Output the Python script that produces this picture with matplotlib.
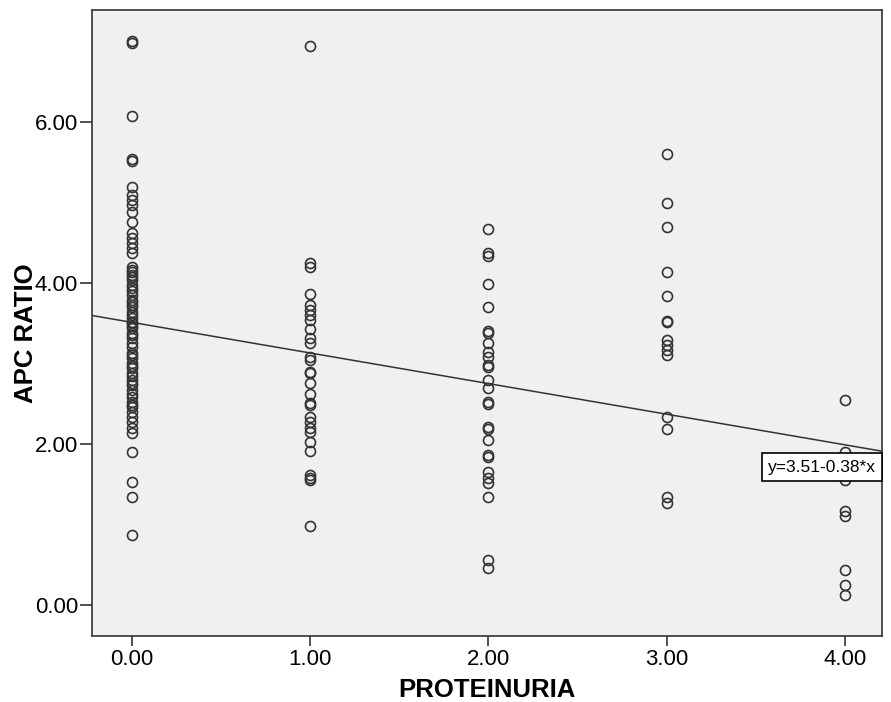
import matplotlib
matplotlib.use("Agg")
import matplotlib.pyplot as plt
import numpy as np

plt.rcParams['font.family'] = ['Liberation Sans', 'DejaVu Sans']

# APC ratio values per proteinuria level
apc_p0 = [7.00, 6.98, 6.07, 5.54, 5.52, 5.19, 5.09, 5.03, 4.97, 4.88, 4.76, 4.62,
          4.56, 4.50, 4.43, 4.37, 4.20, 4.16, 4.13, 4.10, 4.07, 4.04, 3.98, 3.94,
          3.90, 3.85, 3.79, 3.76, 3.73, 3.70, 3.64, 3.60, 3.57, 3.52, 3.50, 3.47,
          3.44, 3.38, 3.35, 3.32, 3.25, 3.20, 3.13, 3.10, 3.07, 3.01, 2.97, 2.94,
          2.88, 2.84, 2.80, 2.76, 2.73, 2.67, 2.62, 2.58, 2.52, 2.49, 2.46, 2.40,
          2.34, 2.27, 2.20, 2.14, 1.90, 1.53, 1.34, 0.87]
apc_p1 = [6.94, 4.25, 4.20, 3.86, 3.73, 3.66, 3.60, 3.54, 3.43, 3.32, 3.25, 3.08,
          3.04, 2.89, 2.88, 2.76, 2.62, 2.51, 2.48, 2.34, 2.27, 2.20, 2.15, 2.02,
          1.91, 1.61, 1.58, 1.55, 0.98]
apc_p2 = [4.67, 4.37, 4.34, 3.99, 3.70, 3.40, 3.38, 3.25, 3.14, 3.08, 2.98, 2.95,
          2.80, 2.70, 2.52, 2.50, 2.21, 2.19, 2.05, 1.86, 1.84, 1.65, 1.58, 1.52,
          1.34, 0.56, 0.46]
apc_p3 = [5.60, 4.99, 4.70, 4.14, 3.84, 3.53, 3.51, 3.29, 3.23, 3.17, 3.11, 2.34,
          2.19, 1.34, 1.27]
apc_p4 = [2.55, 1.90, 1.55, 1.17, 1.10, 0.43, 0.25, 0.13]

groups = [0, 1, 2, 3, 4]
series = [apc_p0, apc_p1, apc_p2, apc_p3, apc_p4]

intercept = 3.51
slope = -0.38

xticks = [0, 1, 2, 3, 4]
yticks = [0, 2, 4, 6]

fig = plt.figure(figsize=(8.91, 7.02), dpi=100)
ax = fig.add_axes([0.1033, 0.094, 0.8867, 0.8918])
ax.set_facecolor('#f0f0f0')

for g, vals in zip(groups, series):
    ax.plot([g] * len(vals), vals, linestyle='none', marker='o', markersize=7.2,
            markerfacecolor='none', markeredgecolor='#333333', markeredgewidth=1.2)

xlim = (-0.225, 4.21)
ax.set_xlim(*xlim)
ax.set_ylim(-0.385, 7.39)
xs = np.array(xlim)
ax.plot(xs, intercept + slope * xs, color='#333333', linewidth=1.1)

ax.text(4.175, 1.714, 'y=3.51-0.38*x', ha='right', va='center', fontsize=12.5,
        bbox=dict(boxstyle='square,pad=0.36', facecolor='white', edgecolor='black', linewidth=1.2))

ax.set_xticks(xticks)
ax.set_xticklabels([f'{v:.2f}' for v in xticks], fontsize=16)
ax.set_yticks(yticks)
ax.set_yticklabels([f'{v:.2f}' for v in yticks], fontsize=16)
ax.tick_params(axis='x', direction='out', length=7, width=1.2, color='#333333', pad=2)
ax.tick_params(axis='y', direction='out', length=9, width=1.2, color='#333333', pad=1)
for s in ax.spines.values():
    s.set_color('#333333')
    s.set_linewidth(1.2)

ax.set_xlabel('PROTEINURIA', fontsize=18.5, fontweight='bold', labelpad=6)
ax.set_ylabel('APC RATIO', fontsize=18.5, fontweight='bold')
ax.yaxis.set_label_coords(-0.068, 0.484)

fig.savefig('out.png', dpi=100, facecolor='white')
